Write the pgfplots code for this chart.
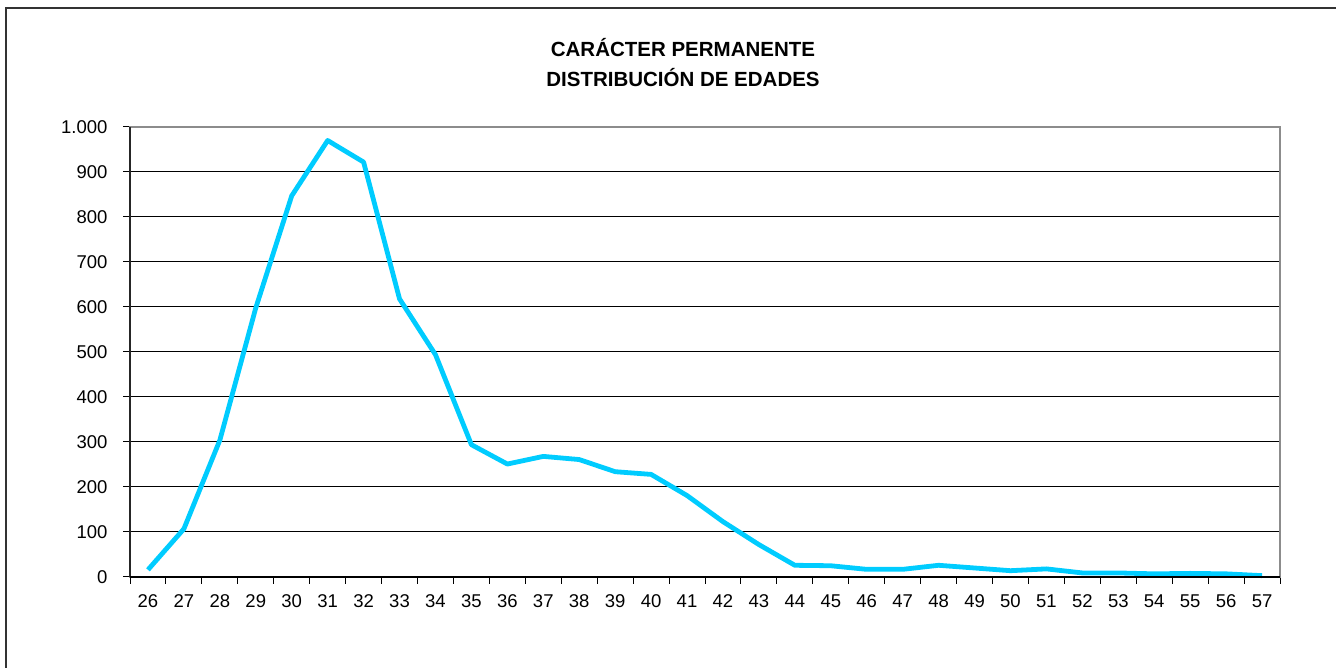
\documentclass[border=0pt]{standalone}
\usepackage{pgfplots}
\pgfplotsset{compat=1.18}
\usepackage{fontspec}
\setmainfont{Liberation Sans}
\definecolor{linecyan}{HTML}{00CCFF}
\definecolor{framegray}{HTML}{8C8C8C}
\begin{document}
\begin{tikzpicture}[x=1pt,y=1pt]
\path[use as bounding box] (0,0) rectangle (1336,668);
\draw[line width=2pt, black!80] (6,0) -- (6,660) -- (1336,660);
\node[font=\fontsize{20.5}{22}\selectfont\bfseries] at (683,620) {CARÁCTER PERMANENTE};
\node[font=\fontsize{20.5}{22}\selectfont\bfseries] at (683,590) {DISTRIBUCIÓN DE EDADES};
\begin{axis}[
  at={(130pt,91pt)}, anchor=south west,
  scale only axis, width=1150pt, height=450pt,
  xmin=25.5, xmax=57.5, ymin=0, ymax=1000,
  xtick={26,...,57}, major x tick style={draw=none},
  minor xtick={25.5,26.5,...,57.5},
  minor tick length=7pt, major tick length=7pt,
  tick align=outside, tick pos=left,
  ytick={0,100,...,1000},
  ymajorgrids, grid style={black, line width=1pt},
  axis line style={framegray, line width=2.5pt},
  tick style={black, line width=1pt},
  ticklabel style={font=\fontsize{18.5}{20}\selectfont},
  /pgf/number format/assume math mode=true,
  /pgf/number format/1000 sep={.},
  xticklabel style={yshift=-7pt},
  yticklabel style={xshift=-12pt},
  clip=false,
]
\addplot[linecyan, line width=4.8pt, line join=round] coordinates {
(26,16) (27,107) (28,304) (29,598) (30,847) (31,970) (32,922) (33,618)
(34,494) (35,294) (36,251) (37,268) (38,261) (39,234) (40,228) (41,181)
(42,123) (43,72) (44,26) (45,25) (46,17) (47,17) (48,26) (49,20)
(50,14) (51,18) (52,9) (53,9) (54,7) (55,8) (56,7) (57,3)
};
\draw[black!85, line width=2pt] (rel axis cs:0,0) -- (rel axis cs:0,1);
\draw[black, line width=1.5pt] (rel axis cs:0,0) -- (rel axis cs:1,0);
\end{axis}
\end{tikzpicture}
\end{document}
